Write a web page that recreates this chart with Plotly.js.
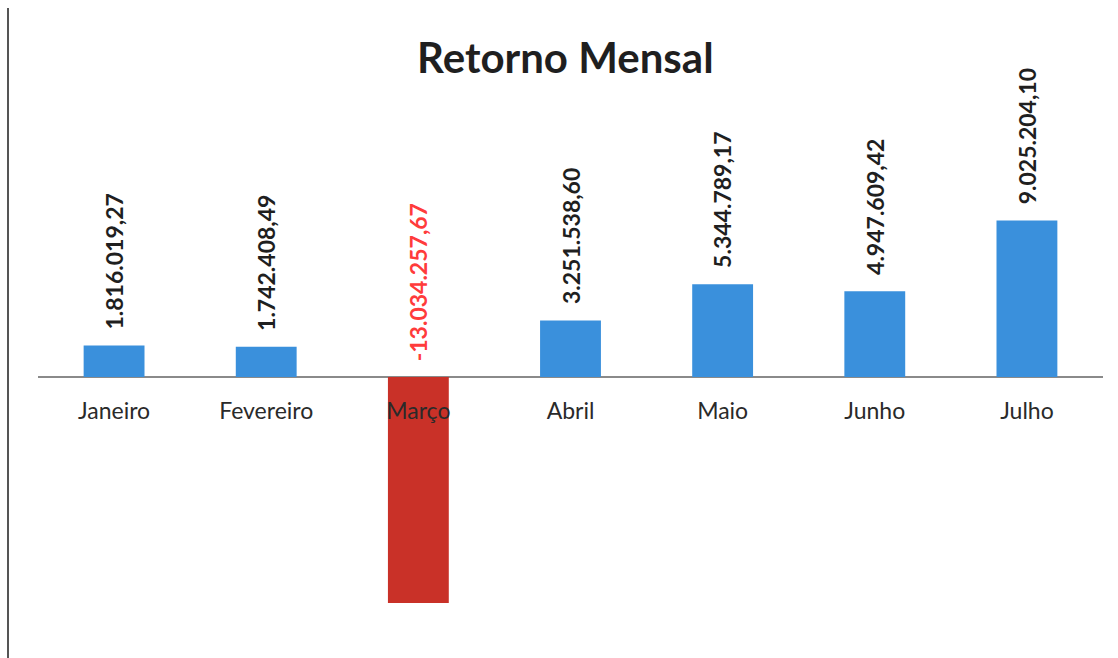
<!DOCTYPE html>
<html>
<head>
<meta charset="utf-8">
<script src="https://cdn.plot.ly/plotly-3.0.1.min.js"></script>
<style>
  html, body { margin: 0; padding: 0; background: #ffffff; }
  #grafico { width: 1118px; height: 658px; }
</style>
</head>
<body>
<div id="grafico"></div>
<script>
let meses = ['Janeiro', 'Fevereiro', 'Março', 'Abril', 'Maio', 'Junho', 'Julho'];
let retorno = [1816019.27, 1742408.49, -13034257.67, 3251538.60, 5344789.17, 4947609.42, 9025204.10];

let corPositivo = '#3a90dc';
let corNegativo = '#c93128';

// formato brasileiro: 1.816.019,27
function formatar(v)
{
	let s = Math.abs(v).toFixed(2).split('.');
	let inteiro = s[0].replace(/\B(?=(\d{3})+(?!\d))/g, '.');
	return (v < 0 ? '-' : '') + inteiro + ',' + s[1];
}

let cores = retorno.map(v => v < 0 ? corNegativo : corPositivo);

let barras = {
	x: meses,
	y: retorno,
	type: 'bar',
	marker: { color: cores },
	hoverinfo: 'x+y'
};

let yMin = -16.2e6;
let yMax = 21.27e6;

let rotulos = meses.map((m, i) => ({
	x: m,
	y: Math.max(retorno[i], 0),
	xref: 'x',
	yref: 'y',
	text: formatar(retorno[i]),
	textangle: -90,
	showarrow: false,
	xanchor: 'center',
	yanchor: 'bottom',
	yshift: 14,
	font: { family: 'Lato, "Open Sans", sans-serif', size: 23, color: retorno[i] < 0 ? '#ff3b3b' : '#1f1f1f', weight: 'bold' }
}));

let layout = {
	width: 1118,
	height: 658,
	title: {
		text: '<b>Retorno Mensal</b>',
		font: { family: 'Lato, "Open Sans", sans-serif', size: 42, color: '#1f1f1f' },
		xref: 'paper',
		x: 0.509,
		y: 1 - 58 / 658,
		yanchor: 'middle'
	},
	margin: { l: 8, r: 15, t: 8, b: 0 },
	paper_bgcolor: '#ffffff',
	plot_bgcolor: '#ffffff',
	bargap: 0.6,
	showlegend: false,
	xaxis: {
		domain: [30 / 1095, 1],
		anchor: 'free',
		position: (0 - yMin) / (yMax - yMin),
		showline: false,
		showgrid: false,
		ticks: '',
		ticklabelstandoff: 18,
		tickfont: { family: 'Lato, "Open Sans", sans-serif', size: 23, color: '#2a2a2a' }
	},
	yaxis: {
		range: [yMin, yMax],
		anchor: 'free',
		position: 0,
		showline: true,
		linecolor: '#555555',
		linewidth: 1.5,
		showgrid: false,
		showticklabels: false,
		ticks: '',
		zeroline: true,
		zerolinecolor: '#8a8a8a',
		zerolinewidth: 1.5
	},
	annotations: rotulos
};

let contenedor = document.getElementById('grafico');
Plotly.newPlot(contenedor, [barras], layout, { displayModeBar: false });
</script>
</body>
</html>
